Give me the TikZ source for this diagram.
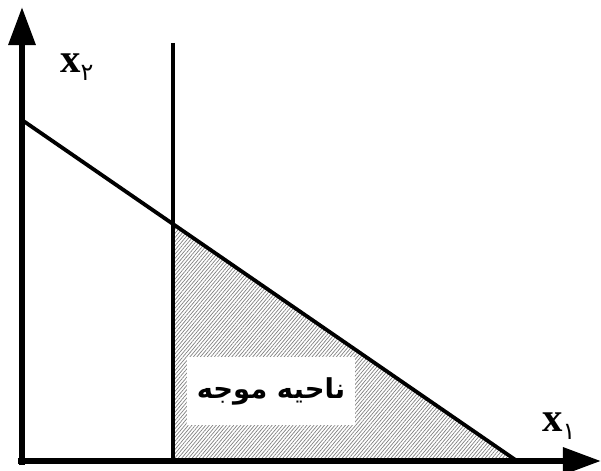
\documentclass[tikz,border=0pt]{standalone}
\usepackage{fontspec}
\setmainfont{Liberation Serif}
\newfontfamily\arabicfont[Script=Arabic]{DejaVu Sans}
\TeXXeTstate=1
\usetikzlibrary{arrows.meta,patterns.meta}
\tikzset{axis/.style={line width=1.55mm, -{Triangle[length=9.5mm,width=6.5mm]}}}
\tikzset{bound/.style={line width=0.95mm}}
\tikzset{varlabel/.style={inner sep=0pt, anchor=base west, font=\fontsize{29}{30}\selectfont\bfseries}}
\tikzset{feasible/.style={fill=white, inner sep=0pt, minimum width=4.2cm, minimum height=1.7cm, font=\arabicfont\bfseries\fontsize{19.5}{24}\selectfont}}

\begin{document}
\begin{tikzpicture}[x=0.025cm, y=-0.025cm]
                    \useasboundingbox (0,0) rectangle (601,471);

                    \coordinate (O) at (22,461);
                    \coordinate (A) at (22,120);
                    \coordinate (B) at (517,461);
                    \coordinate (C) at (173,43);
                    \coordinate (D) at (173,461);
                    \coordinate (P) at (173,223);
                    \coordinate (top) at (22,7);
                    \coordinate (right) at (601,461);

                    % feasible region
                    \fill[pattern={Lines[angle=50, distance=1.9pt, line width=0.5pt]}, pattern color=gray] (P) -- (D) -- (B) -- cycle;

                    \draw[bound] (A) -- (B);
                    \draw[bound] (C) -- (D);

                    \draw[axis] ([yshift=-3]O) -- (top);
                    \draw[axis] ([xshift=-3]O) -- (right);

                    \node[feasible] (region) at (271,391) {\beginR ناحیه موجه\endR};

                    \node[varlabel] (xtwo) at (60,73) {x\raisebox{-5pt}{\arabicfont\mdseries\fontsize{17}{17}\selectfont ۲}};
                    \node[varlabel] (xone) at (542,432) {x\raisebox{-5pt}{\arabicfont\mdseries\fontsize{17}{17}\selectfont ۱}};

                 \end{tikzpicture}
\end{document}
